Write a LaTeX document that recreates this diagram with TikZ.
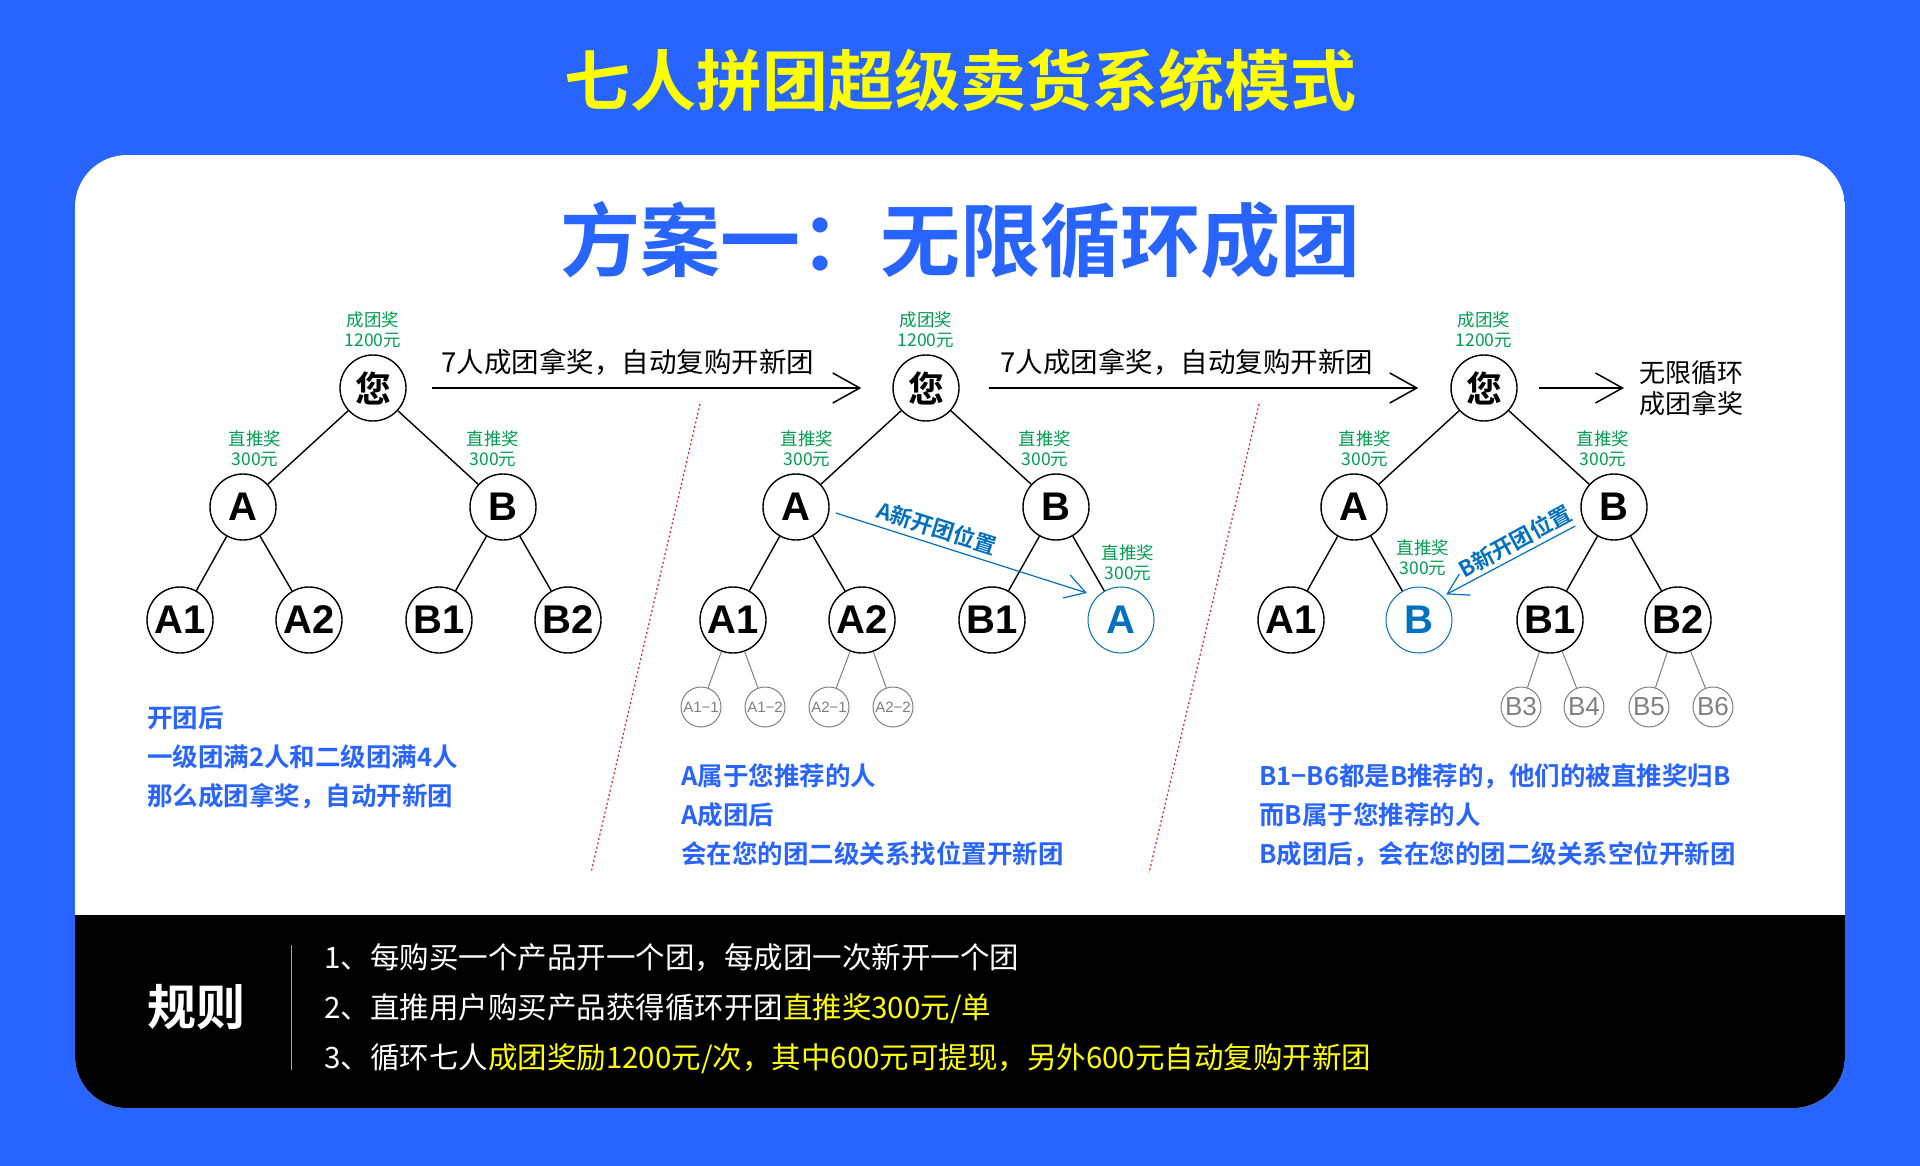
\documentclass[tikz,border=0pt]{standalone}
\usepackage{fontspec}
\setmainfont{Noto Sans CJK SC}[BoldFont={Noto Sans CJK SC Bold}]
\newfontfamily\latinfont{Liberation Sans}
\usepackage{xcolor}
\usetikzlibrary{arrows.meta,calc,positioning}

\definecolor{bgblue}{RGB}{40,100,255}
\definecolor{titleyellow}{RGB}{255,255,0}
\definecolor{rewardgreen}{RGB}{0,158,80}
\definecolor{nodeblue}{RGB}{0,112,192}
\definecolor{sepred}{RGB}{220,40,40}

\begin{document}
\begin{tikzpicture}[x=1pt, y=-1pt,
    person/.style={circle, draw=black, line width=1.4pt, fill=white, minimum size=66pt, inner sep=0pt, font=\latinfont\bfseries\fontsize{40}{40}\selectfont},
    you/.style={person, font=\bfseries\fontsize{36}{36}\selectfont},
    newperson/.style={person, draw=nodeblue, text=nodeblue, line width=1pt},
    minor/.style={circle, draw=gray, text=gray, line width=1pt, fill=white, minimum size=40pt, inner sep=0pt, font=\latinfont\fontsize{15}{15}\selectfont},
    reward/.style={align=center, text=rewardgreen, font=\fontsize{17.5}{20}\selectfont, inner sep=0pt},
    link/.style={line width=1.4pt},
    minorlink/.style={draw=gray, line width=1pt},
    flow/.style={-{Straight Barb[length=27pt, width=30pt]}, line width=1.5pt},
    hint/.style={-{Straight Barb[length=20pt, width=24pt]}, draw=nodeblue, line width=1.2pt},
    hinttext/.style={text=nodeblue, font=\bfseries\fontsize{22}{22}\selectfont, inner sep=0pt},
    caption/.style={font=\fontsize{27.5}{27.5}\selectfont, inner sep=0pt},
    note/.style={align=left, anchor=west, text=bgblue, font=\bfseries\fontsize{25.5}{39}\selectfont, inner sep=0pt},
    sep/.style={draw=sepred, dash pattern=on 2pt off 2.5pt, line width=1.2pt}
]
    \useasboundingbox (0,0) rectangle (1920,1166);
    % background and panel
    \fill[bgblue] (0,0) rectangle (1920,1166);
    \begin{scope}
        \clip[rounded corners=52pt] (75,155) rectangle (1845,1108);
        \fill[white] (75,155) rectangle (1845,1108);
        \fill[black] (75,915) rectangle (1845,1108);
    \end{scope}

    \node[text=titleyellow, font=\bfseries\fontsize{66}{66}\selectfont] (title) at (960,80) {七人拼团超级卖货系统模式};
    \node[text=bgblue, font=\bfseries\fontsize{80}{80}\selectfont] (plan) at (960,240) {方案一：无限循环成团};

    % tree 1
    \node[you] (t1you) at (373,388) {您};
    \node[person] (t1A) at (243,507) {A};
    \node[person] (t1B) at (503,507) {B};
    \node[person] (t1A1) at (180,620) {A1};
    \node[person] (t1A2) at (309,620) {A2};
    \node[person] (t1B1) at (439,620) {B1};
    \node[person] (t1B2) at (568,620) {B2};
    \node[reward] (t1youprize) at (373,330) {成团奖\\1200元};
    \node[reward] (t1Aprize) at (255,449) {直推奖\\300元};
    \node[reward] (t1Bprize) at (493,449) {直推奖\\300元};
    \draw[link] (t1you) -- (t1A);
    \draw[link] (t1you) -- (t1B);
    \draw[link] (t1A) -- (t1A1);
    \draw[link] (t1A) -- (t1A2);
    \draw[link] (t1B) -- (t1B1);
    \draw[link] (t1B) -- (t1B2);
    \node[note] (t1note) at (147,757) {开团后\\一级团满2人和二级团满4人\\那么成团拿奖，自动开新团};

    % tree 2
    \node[you] (t2you) at (926,388) {您};
    \node[person] (t2A) at (796,507) {A};
    \node[person] (t2B) at (1056,507) {B};
    \node[person] (t2A1) at (733,620) {A1};
    \node[person] (t2A2) at (862,620) {A2};
    \node[person] (t2B1) at (992,620) {B1};
    \node[newperson] (t2newA) at (1121,620) {A};
    \node[minor] (t2a11) at (701,707) {A1−1};
    \node[minor] (t2a12) at (765,707) {A1−2};
    \node[minor] (t2a21) at (829,707) {A2−1};
    \node[minor] (t2a22) at (893,707) {A2−2};
    \node[reward] (t2youprize) at (926,330) {成团奖\\1200元};
    \node[reward] (t2Aprize) at (807,449) {直推奖\\300元};
    \node[reward] (t2Bprize) at (1045,449) {直推奖\\300元};
    \node[reward] (t2newAprize) at (1128,563) {直推奖\\300元};
    \draw[link] (t2you) -- (t2A);
    \draw[link] (t2you) -- (t2B);
    \draw[link] (t2A) -- (t2A1);
    \draw[link] (t2A) -- (t2A2);
    \draw[link] (t2B) -- (t2B1);
    \draw[link] (t2B) -- (t2newA);
    \draw[minorlink] (t2A1) -- (t2a11);
    \draw[minorlink] (t2A1) -- (t2a12);
    \draw[minorlink] (t2A2) -- (t2a21);
    \draw[minorlink] (t2A2) -- (t2a22);
    \draw[hint, shorten >=11pt] ($(t2A.east)+(6,6)$) -- (t2newA.north west);
    \node[hinttext, rotate=-17.6] (t2hint) at (937,528) {A新开团位置};
    \node[note] (t2note) at (681,815) {A属于您推荐的人\\A成团后\\会在您的团二级关系找位置开新团};

    % tree 3
    \node[you] (t3you) at (1484,388) {您};
    \node[person] (t3A) at (1354,507) {A};
    \node[person] (t3B) at (1614,507) {B};
    \node[person] (t3A1) at (1291,620) {A1};
    \node[newperson] (t3newB) at (1419,620) {B};
    \node[person] (t3B1) at (1550,620) {B1};
    \node[person] (t3B2) at (1678,620) {B2};
    \node[minor, font=\latinfont\fontsize{26}{26}\selectfont] (t3b3) at (1521,707) {B3};
    \node[minor, font=\latinfont\fontsize{26}{26}\selectfont] (t3b4) at (1584,707) {B4};
    \node[minor, font=\latinfont\fontsize{26}{26}\selectfont] (t3b5) at (1649,707) {B5};
    \node[minor, font=\latinfont\fontsize{26}{26}\selectfont] (t3b6) at (1713,707) {B6};
    \node[reward] (t3youprize) at (1484,330) {成团奖\\1200元};
    \node[reward] (t3Aprize) at (1365,449) {直推奖\\300元};
    \node[reward] (t3Bprize) at (1603,449) {直推奖\\300元};
    \node[reward] (t3newBprize) at (1423,558) {直推奖\\300元};
    \draw[link] (t3you) -- (t3A);
    \draw[link] (t3you) -- (t3B);
    \draw[link] (t3A) -- (t3A1);
    \draw[link] (t3A) -- (t3newB);
    \draw[link] (t3B) -- (t3B1);
    \draw[link] (t3B) -- (t3B2);
    \draw[minorlink] (t3B1) -- (t3b3);
    \draw[minorlink] (t3B1) -- (t3b4);
    \draw[minorlink] (t3B2) -- (t3b5);
    \draw[minorlink] (t3B2) -- (t3b6);
    \draw[hint, shorten >=4pt] ($(t3B.west)+(-5,19)$) -- (t3newB.north east);
    \node[hinttext, rotate=28.4] (t3hint) at (1515,541) {B新开团位置};
    \node[note] (t3note) at (1259,815) {B1−B6都是B推荐的，他们的被直推奖归B\\而B属于您推荐的人\\B成团后，会在您的团二级关系空位开新团};

    % flow between trees
    \node[caption] (cap1) at (628,362) {7人成团拿奖，自动复购开新团};
    \node[caption] (cap2) at (1187,362) {7人成团拿奖，自动复购开新团};
    \node[align=left, font=\fontsize{26}{31}\selectfont, inner sep=0pt, anchor=west] (loopend) at (1639,388) {无限循环\\成团拿奖};
    \draw[flow, shorten <=25pt, shorten >=31pt] (t1you) -- (t2you);
    \draw[flow, shorten <=29pt, shorten >=32pt] (t2you) -- (t3you);
    \draw[flow, shorten <=21pt, shorten >=15pt] (t3you) -- (loopend);

    % separators
    \draw[sep] (700,404) -- (591,873);
    \draw[sep] (1259,404) -- (1149,873);

    % rules
    \node[text=white, font=\bfseries\fontsize{49}{49}\selectfont] (rulehead) at (196,1007) {规则};
    \draw[gray!70, line width=1pt] (291,945) -- (291,1070);
    \node[anchor=west, align=left, text=white, font=\fontsize{29.5}{50}\selectfont, inner sep=0pt] (rules) at (324,1009) {1、每购买一个产品开一个团，每成团一次新开一个团\\2、直推用户购买产品获得循环开团\textcolor{titleyellow}{直推奖300元/单}\\3、循环七人\textcolor{titleyellow}{成团奖励1200元/次，其中600元可提现，另外600元自动复购开新团}};
\end{tikzpicture}
\end{document}
